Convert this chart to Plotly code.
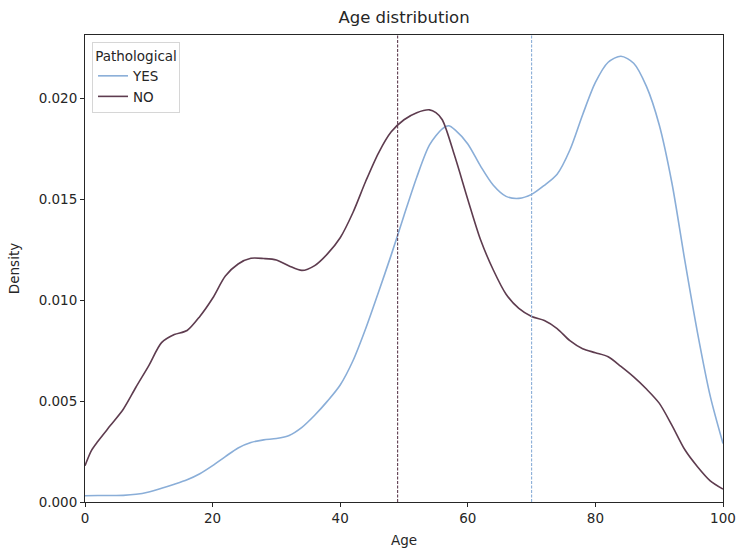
import plotly.graph_objects as go

# Smoothed age densities per group, sampled at fixed ages
age_yes = [0, 2, 4, 6, 8, 10, 12, 14, 16, 18, 20, 22, 24, 26, 28, 30, 32, 34, 36, 38, 40, 42, 44, 46, 48, 50, 52, 54, 56, 57, 58, 60, 62, 64, 66, 68, 70, 72, 74, 76, 78, 80, 82, 84, 86, 88, 90, 92, 94, 96, 98, 100]
density_yes = [0.00031, 0.00032, 0.00032, 0.00033, 0.00038, 0.00050, 0.00068, 0.00088, 0.00110, 0.00140, 0.00180, 0.00225, 0.00268, 0.00295, 0.00308, 0.00315, 0.00330, 0.00370, 0.00430, 0.00500, 0.00580, 0.00700, 0.00860, 0.01040, 0.01225, 0.01420, 0.01610, 0.01770, 0.01850, 0.01865, 0.01845, 0.01775, 0.01665, 0.01570, 0.01515, 0.01505, 0.01525, 0.01570, 0.01625, 0.01745, 0.01920, 0.02080, 0.02180, 0.02210, 0.02175, 0.02060, 0.01870, 0.01580, 0.01200, 0.00840, 0.00525, 0.00290]

age_no = [0, 1, 2, 4, 6, 8, 10, 12, 14, 16, 18, 20, 22, 24, 26, 28, 30, 32, 34, 36, 38, 40, 42, 44, 46, 48, 50, 52, 54, 55, 56, 58, 60, 62, 64, 66, 68, 70, 72, 74, 76, 78, 80, 82, 84, 86, 88, 90, 92, 94, 96, 98, 100]
density_no = [0.00180, 0.00255, 0.00300, 0.00380, 0.00460, 0.00570, 0.00676, 0.00790, 0.00830, 0.00850, 0.00920, 0.01010, 0.01120, 0.01180, 0.01208, 0.01207, 0.01200, 0.01170, 0.01148, 0.01172, 0.01230, 0.01310, 0.01435, 0.01590, 0.01730, 0.01835, 0.01895, 0.01930, 0.01944, 0.01930, 0.01895, 0.01710, 0.01500, 0.01300, 0.01150, 0.01030, 0.00960, 0.00920, 0.00900, 0.00860, 0.00800, 0.00760, 0.00740, 0.00720, 0.00672, 0.00620, 0.00560, 0.00490, 0.00380, 0.00260, 0.00175, 0.00105, 0.00064]

groups = ["YES", "NO"]
medians = {"YES": 70, "NO": 49}
colors = {"YES": "#8aaed8", "NO": "#5e3c4f"}

x_range = [0, 100]
y_range = [0, 0.02315]
x_ticks = [0, 20, 40, 60, 80, 100]
y_ticks = [0.000, 0.005, 0.010, 0.015, 0.020]

font = "DejaVu Sans"
ink = "#262626"

fig = go.Figure()
series = {"YES": (age_yes, density_yes), "NO": (age_no, density_no)}
for g in groups:
    xs, ys = series[g]
    fig.add_trace(go.Scatter(
        x=xs, y=ys, mode="lines", name=g,
        line=dict(color=colors[g], width=1.6, shape="spline", smoothing=0.8),
    ))

# Median age of each group as a finely dashed marker line
for g in groups:
    fig.add_vline(x=medians[g], line=dict(color=colors[g], width=1.1, dash="3px,1.5px"))

fig.update_layout(
    width=736, height=548,
    margin=dict(l=85, r=13, t=35, b=46, autoexpand=False),
    paper_bgcolor="white", plot_bgcolor="white",
    font=dict(family=font, size=13.5, color=ink),
    title=dict(text="Age distribution", x=0.5, xanchor="center", xref="paper",
               y=1, yref="container", yanchor="top", pad=dict(t=11),
               font=dict(family=font, size=16.5, color=ink)),
    showlegend=True,
    legend=dict(
        title=dict(text="Pathological", side="top center", font=dict(size=13.5, color=ink)),
        x=0.011, y=0.985, xanchor="left", yanchor="top",
        bgcolor="rgba(255,255,255,0.8)", bordercolor="#d6d6d6", borderwidth=1,
        font=dict(size=13.5, color=ink), itemwidth=30, tracegroupgap=0,
    ),
)
fig.update_xaxes(
    range=x_range, tickvals=x_ticks, ticktext=[str(t) for t in x_ticks],
    title=dict(text="Age", font=dict(size=13.5)), automargin=False,
    showline=True, linecolor=ink, linewidth=1, mirror=True,
    ticks="outside", ticklen=4, tickcolor=ink, showgrid=False, zeroline=False,
)
fig.update_yaxes(
    range=y_range, tickvals=y_ticks, ticktext=[f"{t:.3f}" for t in y_ticks],
    title=dict(text="Density", font=dict(size=13.5)), automargin=False,
    showline=True, linecolor=ink, linewidth=1, mirror=True,
    ticks="outside", ticklen=4, tickcolor=ink, showgrid=False, zeroline=False,
)

fig.write_html("out.html")
